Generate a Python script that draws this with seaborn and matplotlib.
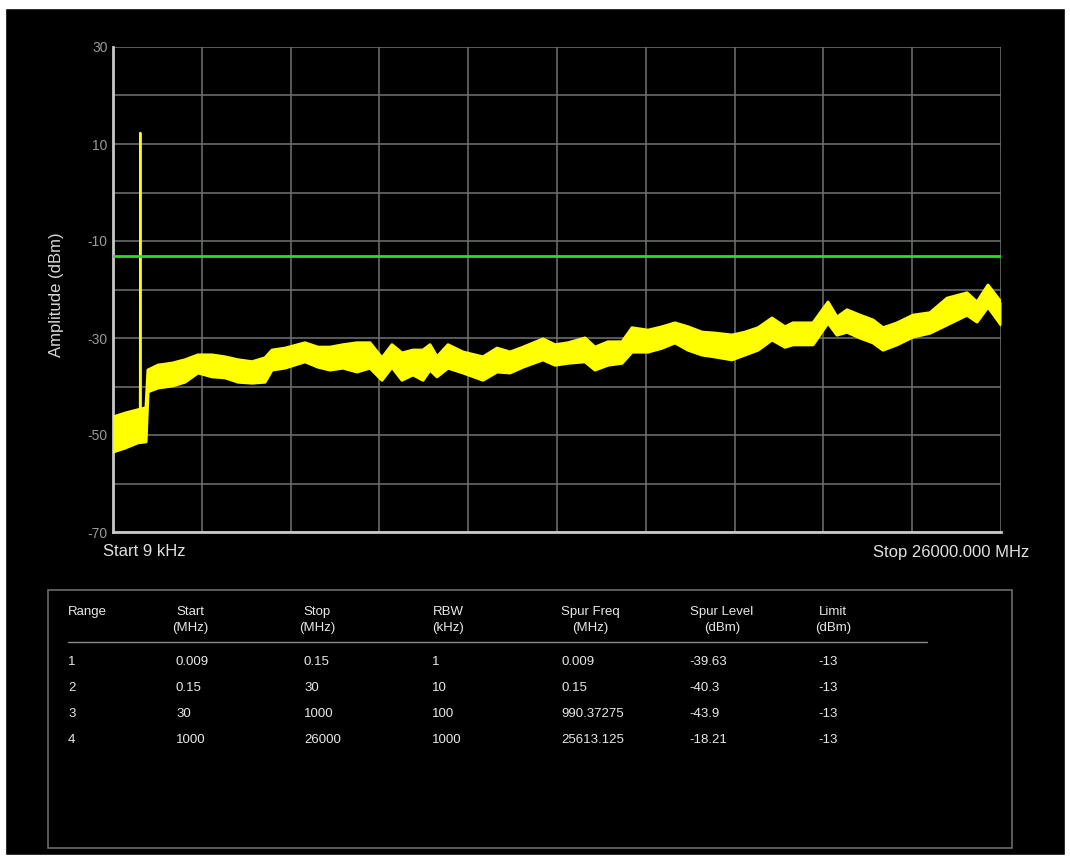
import numpy as np
import pandas as pd
import matplotlib
matplotlib.use("Agg")
import matplotlib.pyplot as plt
from matplotlib.patches import Rectangle
from matplotlib.lines import Line2D
import seaborn as sns

W, H = 1070, 857

# spectrum trace (upper / lower edge of the noise band)
freq_mhz = [0.009, 351, 732, 966, 1025, 1318, 1727, 2108, 2489, 2899, 3279, 3660, 4070,
            4451, 4656, 5036, 5622, 6002, 6354, 6734, 7144, 7525, 7876, 8169, 8462,
            8784, 9077, 9282, 9487, 9809, 10248, 10834, 11244, 11624, 12005, 12591,
            12942, 13322, 13820, 14113, 14494, 14904, 15197, 15665, 16075, 16456,
            16836, 17246, 17627, 18124, 18505, 18886, 19296, 19676, 19910, 20496,
            20936, 21199, 21492, 21873, 22253, 22546, 22956, 23424, 23922, 24420,
            25005, 25298, 25620, 26000]
upper_dbm = [-46.3, -45.5, -44.8, -44.4, -36.6, -35.6, -35.2, -34.5, -33.5, -33.5, -33.9,
             -34.5, -34.9, -34.1, -32.5, -32.1, -31.0, -31.9, -31.9, -31.4, -31.0, -31.0,
             -34.1, -31.4, -33.1, -32.5, -32.5, -31.4, -33.9, -31.4, -32.9, -33.9, -32.1,
             -32.9, -31.9, -30.2, -31.4, -31.0, -30.0, -31.9, -30.8, -30.8, -27.9, -28.4,
             -27.7, -26.9, -27.7, -28.8, -29.0, -29.4, -28.8, -27.9, -25.9, -27.7, -26.9,
             -26.9, -22.6, -25.7, -24.2, -25.3, -26.3, -27.9, -26.9, -25.3, -24.8, -21.8,
             -20.7, -22.6, -19.1, -22.6]
lower_dbm = [-53.5, -52.7, -51.6, -51.4, -41.1, -40.3, -39.9, -39.1, -37.2, -38.0, -38.2,
             -39.1, -39.3, -39.1, -36.6, -36.2, -34.9, -36.0, -36.6, -36.2, -37.0, -36.2,
             -38.7, -36.0, -38.7, -37.6, -38.7, -36.6, -38.0, -36.2, -37.2, -38.7, -37.0,
             -37.2, -36.0, -34.5, -35.6, -35.2, -34.9, -36.6, -35.6, -35.2, -32.9, -32.9,
             -32.1, -31.0, -32.5, -33.5, -33.9, -34.5, -33.5, -32.5, -30.4, -31.9, -31.4,
             -31.4, -26.9, -29.4, -28.8, -30.0, -31.0, -32.5, -31.4, -29.8, -29.0, -27.3,
             -25.3, -26.7, -23.6, -27.3]

# carrier spike
spike_freq = [790, 800, 810]
spike_dbm = [-45.0, 12.3, -45.0]

limit_dbm_line = -13
y_ticks = [30, 10, -10, -30, -50, -70]

# results table
col_headers = [("Range", ""), ("Start", "(MHz)"), ("Stop", "(MHz)"), ("RBW", "(kHz)"),
               ("Spur Freq", "(MHz)"), ("Spur Level", "(dBm)"), ("Limit", "(dBm)")]
ranges = ["1", "2", "3", "4"]
start_mhz = ["0.009", "0.15", "30", "1000"]
stop_mhz = ["0.15", "30", "1000", "26000"]
rbw_khz = ["1", "10", "100", "1000"]
spur_freq = ["0.009", "0.15", "990.37275", "25613.125"]
spur_level = ["-39.63", "-40.3", "-43.9", "-18.21"]
limit_dbm = ["-13", "-13", "-13", "-13"]

sns.set_theme(style="dark", rc={"axes.facecolor": "black", "figure.facecolor": "white"})
plt.rcParams['font.family'] = ['Liberation Sans', 'DejaVu Sans']


def fx(x):
    return x / W


def fy(y):
    return 1 - y / H


fig = plt.figure(figsize=(W / 100, H / 100), dpi=100)
fig.patches.append(Rectangle((fx(5), fy(855)), fx(1065) - fx(5), fy(8) - fy(855),
                             transform=fig.transFigure, facecolor="black", zorder=-10))

ax = fig.add_axes([fx(113), fy(532), fx(1001) - fx(113), fy(47) - fy(532)])
ax.set_facecolor("black")
ax.set_zorder(2)

trace = pd.DataFrame({"freq": freq_mhz, "upper": upper_dbm, "lower": lower_dbm})
ax.fill_between(trace["freq"], trace["lower"], trace["upper"], color="#ffff00", lw=0, zorder=3)
sns.lineplot(data=trace, x="freq", y="upper", ax=ax, color="#ffff00", lw=2.2, zorder=3)
sns.lineplot(data=trace, x="freq", y="lower", ax=ax, color="#ffff00", lw=2.2, zorder=3)
sns.lineplot(x=spike_freq, y=spike_dbm, ax=ax, color="#ffff00", lw=1.6, zorder=3)
ax.axhline(limit_dbm_line, color="#1ee61e", lw=2, zorder=4)

ax.set_xlim(0, 26000)
ax.set_ylim(-70, 30)
ax.set_xticks(np.linspace(0, 26000, 11))
ax.set_xticklabels([])
ax.set_yticks(np.arange(-70, 31, 10))
ax.set_yticklabels([str(v) if v in y_ticks else "" for v in np.arange(-70, 31, 10)])
ax.tick_params(axis="both", length=0, labelsize=10, labelcolor="#9a9a9a", pad=4)
ax.grid(True, color="#727272", lw=1.1)
ax.set_xlabel("")
ax.set_ylabel("")
for side in ["top", "right"]:
    ax.spines[side].set_visible(False)
for side in ["left", "bottom"]:
    ax.spines[side].set_color("#c8c8c8")
    ax.spines[side].set_linewidth(2)

fig.text(fx(57), fy(295), "Amplitude (dBm)", rotation=90, ha="center", va="center",
         color="#d8d8d8", fontsize=12)
fig.text(fx(103), fy(552), "Start 9 kHz", ha="left", va="center", color="#e0e0e0", fontsize=12)
fig.text(fx(1029), fy(552), "Stop 26000.000 MHz", ha="right", va="center", color="#e0e0e0",
         fontsize=12)

# table
fig.patches.append(Rectangle((fx(48), fy(848)), fx(1012) - fx(48), fy(590) - fy(848),
                             transform=fig.transFigure, facecolor="none",
                             edgecolor="#6a6a6a", lw=1.2, zorder=2))
fig.lines.append(Line2D([fx(68), fx(927)], [fy(642), fy(642)], transform=fig.transFigure,
                        color="#8a8a8a", lw=1))

head_x = [68, 190, 317, 448, 590, 722, 833]
value_x = [68, 176, 304, 432, 561, 689, 818]
tcolor = "#e8e8e8"
for i, (l1, l2) in enumerate(col_headers):
    ha = "left" if i == 0 else "center"
    fig.text(fx(head_x[i]), fy(612), l1, ha=ha, va="center", color=tcolor, fontsize=9.5)
    if l2:
        fig.text(fx(head_x[i]), fy(628), l2, ha=ha, va="center", color=tcolor, fontsize=9.5)

columns = [ranges, start_mhz, stop_mhz, rbw_khz, spur_freq, spur_level, limit_dbm]
row_y = [662, 688, 714, 740]
for c, col in enumerate(columns):
    for r, val in enumerate(col):
        fig.text(fx(value_x[c]), fy(row_y[r]), val, ha="left", va="center", color=tcolor,
                 fontsize=9.5)

fig.savefig("out.png", dpi=100)
